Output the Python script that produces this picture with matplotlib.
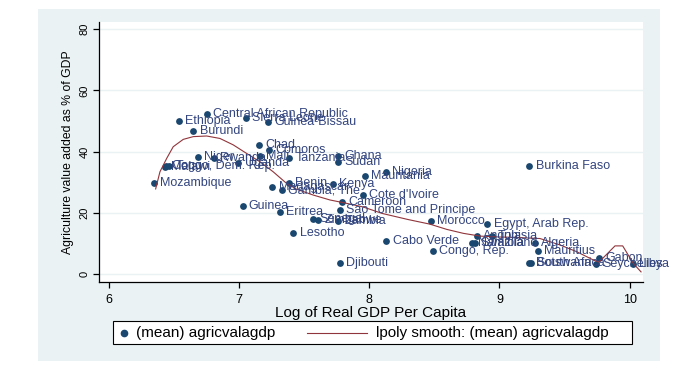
import numpy as np
import matplotlib.pyplot as plt
from matplotlib.patches import Rectangle
from matplotlib.lines import Line2D

plt.rcParams['font.family'] = ['Liberation Sans', 'DejaVu Sans']

# country means: log real GDP per capita vs agriculture value added (% of GDP)
countries = ["Central African Republic", "Ethiopia", "Burundi", "Sierra Leone", "Guinea-Bissau",
             "Chad", "Comoros", "Mali", "Niger", "Rwanda", "Uganda", "Tanzania",
             "Malawi", "Congo, Dem. Rep.", "Togo", "Mozambique", "Benin", "Ghana", "Sudan",
             "Nigeria", "Mauritania", "Kenya", "Madagascar", "Gambia, The", "Cote d'Ivoire",
             "Cameroon", "Sao Tome and Principe", "Guinea", "Eritrea", "Lesotho", "Senegal",
             "Zimbabwe", "Zambia", "Djibouti", "Cabo Verde", "Morocco", "Egypt, Arab Rep.",
             "Burkina Faso", "Congo, Rep.", "Angola", "Tunisia", "Namibia", "Swaziland",
             "Algeria", "Mauritius", "Botswana", "South Africa", "Gabon", "Seychelles", "Libya"]
log_gdp = [6.752, 6.539, 6.649, 7.054, 7.225,
           7.157, 7.234, 7.161, 6.687, 6.808, 6.996, 7.384,
           6.432, 6.44, 6.466, 6.347, 7.384, 7.758, 7.758,
           8.127, 7.968, 7.72, 7.256, 7.328, 7.95,
           7.789, 7.776, 7.028, 7.315, 7.417, 7.566,
           7.609, 7.763, 7.776, 8.132, 8.475, 8.907,
           9.23, 8.488, 8.826, 8.941, 8.788, 8.81,
           9.273, 9.294, 9.23, 9.243, 9.766, 9.74, 10.028]
agri_share = [52.3, 50.1, 46.8, 51.1, 49.8,
              42.1, 40.6, 38.7, 38.3, 38.0, 36.2, 37.8,
              35.0, 35.2, 35.3, 29.6, 29.8, 38.6, 36.7,
              33.4, 32.0, 29.3, 28.4, 27.4, 25.8,
              23.4, 20.9, 22.2, 20.2, 13.5, 18.1,
              17.5, 17.2, 3.7, 10.9, 17.2, 16.2,
              35.3, 7.6, 12.4, 12.5, 10.0, 10.3,
              10.0, 7.6, 3.5, 3.5, 5.2, 3.3, 3.2]

# lpoly smooth
smooth_x = [6.36, 6.393, 6.445, 6.495, 6.572, 6.649, 6.752, 6.854, 6.956, 7.059, 7.161,
            7.263, 7.366, 7.443, 7.571, 7.699, 7.827, 7.955, 8.10, 8.30, 8.467, 8.595,
            8.723, 8.851, 9.0, 9.107, 9.312, 9.466, 9.594, 9.721, 9.765, 9.888, 9.947,
            10.028, 10.088]
smooth_y = [27.8, 33.4, 37.8, 41.6, 44.0, 44.9, 45.1, 44.3, 42.2, 39.4, 36.7,
            33.4, 29.6, 27.7, 25.8, 24.2, 23.1, 21.9, 19.8, 17.8, 16.3, 14.6,
            13.3, 12.4, 12.1, 12.0, 11.6, 9.5, 7.3, 4.6, 3.9, 9.2, 9.2,
            3.5, 0.7]

navy = '#1a476f'
maroon = '#90353b'
bg = '#eaf2f3'
W, H = 700, 369

fig = plt.figure(figsize=(7, 3.69), dpi=100)
fig.patch.set_facecolor('white')
fig.patches.append(Rectangle((38 / W, 1 - 361 / H), (660 - 38) / W, (361 - 9) / H,
                             transform=fig.transFigure, facecolor=bg, edgecolor='none', zorder=-10))

ax = fig.add_axes([99 / W, 1 - 282 / H, 544 / W, 260 / H])
ax.set_facecolor('white')
ax.scatter(log_gdp, agri_share, s=24, color=navy, zorder=3, linewidths=0)
ax.plot(smooth_x, smooth_y, color=maroon, lw=0.8, zorder=4)
for name, x, y in zip(countries, log_gdp, agri_share):
    ax.annotate(name, (x, y), xytext=(4.5, 0), textcoords='offset points',
                ha='left', va='center', fontsize=9, color='#33457f', zorder=5,
                annotation_clip=False)

ax.set_xlim(5.925, 10.103)
ax.set_ylim(-2.6, 82.35)
ax.set_xticks([6, 7, 8, 9, 10])
ax.set_yticks([0, 20, 40, 60, 80])
ax.grid(axis='y', color=bg, lw=1)
ax.set_axisbelow(True)
for s in ['top', 'right']:
    ax.spines[s].set_visible(False)
for s in ['left', 'bottom']:
    ax.spines[s].set_linewidth(0.9)
ax.tick_params(axis='x', length=4, width=0.9, labelsize=9, pad=4.5)
ax.tick_params(axis='y', length=4, width=0.9, labelsize=8, pad=3)
plt.setp(ax.get_yticklabels(), rotation=90, va='center')
ax.set_xlabel("Log of Real GDP Per Capita", fontsize=11, labelpad=0.5)
ax.set_ylabel("Agriculture value added as % of GDP", fontsize=8.8, labelpad=4)

# legend box
fig.patches.append(Rectangle((113 / W, 1 - 344 / H), (632 - 113) / W, 23 / H,
                             transform=fig.transFigure, facecolor='white',
                             edgecolor='black', lw=0.8))
ly = 1 - 332.5 / H
fig.lines.append(Line2D([124 / W], [ly], marker='o', ms=4.5, color=navy, ls='none',
                        transform=fig.transFigure))
fig.text(136 / W, ly, "(mean) agricvalagdp", fontsize=11, va='center', ha='left')
fig.lines.append(Line2D([307 / W, 367 / W], [ly, ly], color=maroon, lw=0.8,
                        transform=fig.transFigure))
fig.text(376 / W, ly, "lpoly smooth: (mean) agricvalagdp", fontsize=11, va='center', ha='left')

fig.savefig('out.png', dpi=100)
